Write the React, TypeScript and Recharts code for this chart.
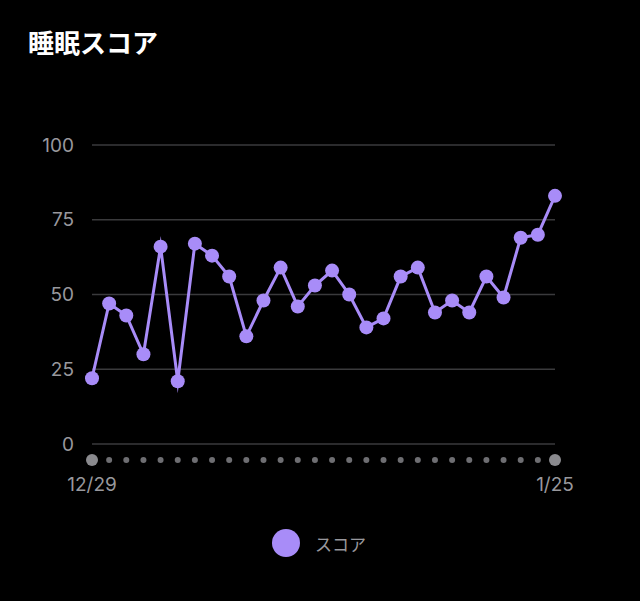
import React from "react";
import { LineChart, Line, XAxis, YAxis, CartesianGrid } from "recharts";

const dates = [
  "12/29", "12/30", "12/31", "1/1", "1/2", "1/3", "1/4", "1/5", "1/6", "1/7",
  "1/8", "1/9", "1/10", "1/11", "1/12", "1/13", "1/14", "1/15", "1/16", "1/17",
  "1/18", "1/19", "1/20", "1/21", "1/22", "1/23", "1/24", "1/25",
];
const scores = [
  22, 47, 43, 30, 66, 21, 67, 63, 56, 36,
  48, 59, 46, 53, 58, 50, 39, 42, 56, 59,
  44, 48, 44, 56, 49, 69, 70, 83,
];
const yTicks = [0, 25, 50, 75, 100];
const labeledDates = ["12/29", "1/25"];
const title = "睡眠スコア";
const seriesName = "スコア";

const data = dates.map((d, i) => ({ date: d, score: scores[i] }));

const PURPLE = "#a88cf8";
const GRAY = "#98989d";
const FONT = "'Noto Sans CJK JP', 'Noto Sans', sans-serif";
const NUMFONT = "Inter, 'Noto Sans', sans-serif";

const XTick = (props: any) => {
  const { x, y, payload, index } = props;
  const isEnd = index === 0 || index === dates.length - 1;
  const showLabel = labeledDates.includes(payload.value);
  return (
    <g>
      <circle cx={x} cy={y + 16} r={isEnd ? 6 : 3} fill={isEnd ? "#8a8a8e" : "#6e6e72"} />
      {showLabel && (
        <text x={x} y={y + 47} textAnchor="middle" fill={GRAY} fontSize={19} fontFamily={NUMFONT}>
          {payload.value}
        </text>
      )}
    </g>
  );
};

export default function App() {
  return (
    <div style={{ position: "fixed", left: 0, top: 0, width: 640, height: 601, background: "#000", overflow: "hidden" }}>
      <div
        style={{
          position: "absolute",
          left: 28,
          top: 27,
          color: "#fff",
          fontSize: 26,
          fontWeight: 700,
          fontFamily: FONT,
          lineHeight: "30px",
        }}
      >
        {title}
      </div>
      <LineChart
        width={640}
        height={601}
        data={data}
        margin={{ top: 145, right: 85, bottom: 97, left: 0 }}
      >
        <CartesianGrid horizontal vertical={false} stroke="#3a3a3c" strokeWidth={1.5} />
        <XAxis
          dataKey="date"
          interval={0}
          axisLine={false}
          tickLine={false}
          tickSize={0}
          tickMargin={0}
          height={60}
          tick={<XTick />}
        />
        <YAxis
          domain={[0, 100]}
          ticks={yTicks}
          axisLine={false}
          tickLine={false}
          tickSize={0}
          tickMargin={18}
          width={92}
          tick={{ fill: GRAY, fontSize: 19, fontFamily: NUMFONT }}
        />
        <Line
          type="linear"
          dataKey="score"
          name={seriesName}
          stroke={PURPLE}
          strokeWidth={3}
          strokeLinejoin="miter"
          strokeMiterlimit={10}
          dot={{ r: 7, fill: PURPLE, stroke: "none" }}
          activeDot={false}
          isAnimationActive={false}
        />
      </LineChart>
      <div
        style={{
          position: "absolute",
          left: 272,
          top: 529,
          display: "flex",
          alignItems: "center",
          fontFamily: FONT,
        }}
      >
        <div style={{ width: 28, height: 28, borderRadius: 14, background: PURPLE }} />
        <span style={{ marginLeft: 15, color: GRAY, fontSize: 17 }}>{seriesName}</span>
      </div>
    </div>
  );
}
